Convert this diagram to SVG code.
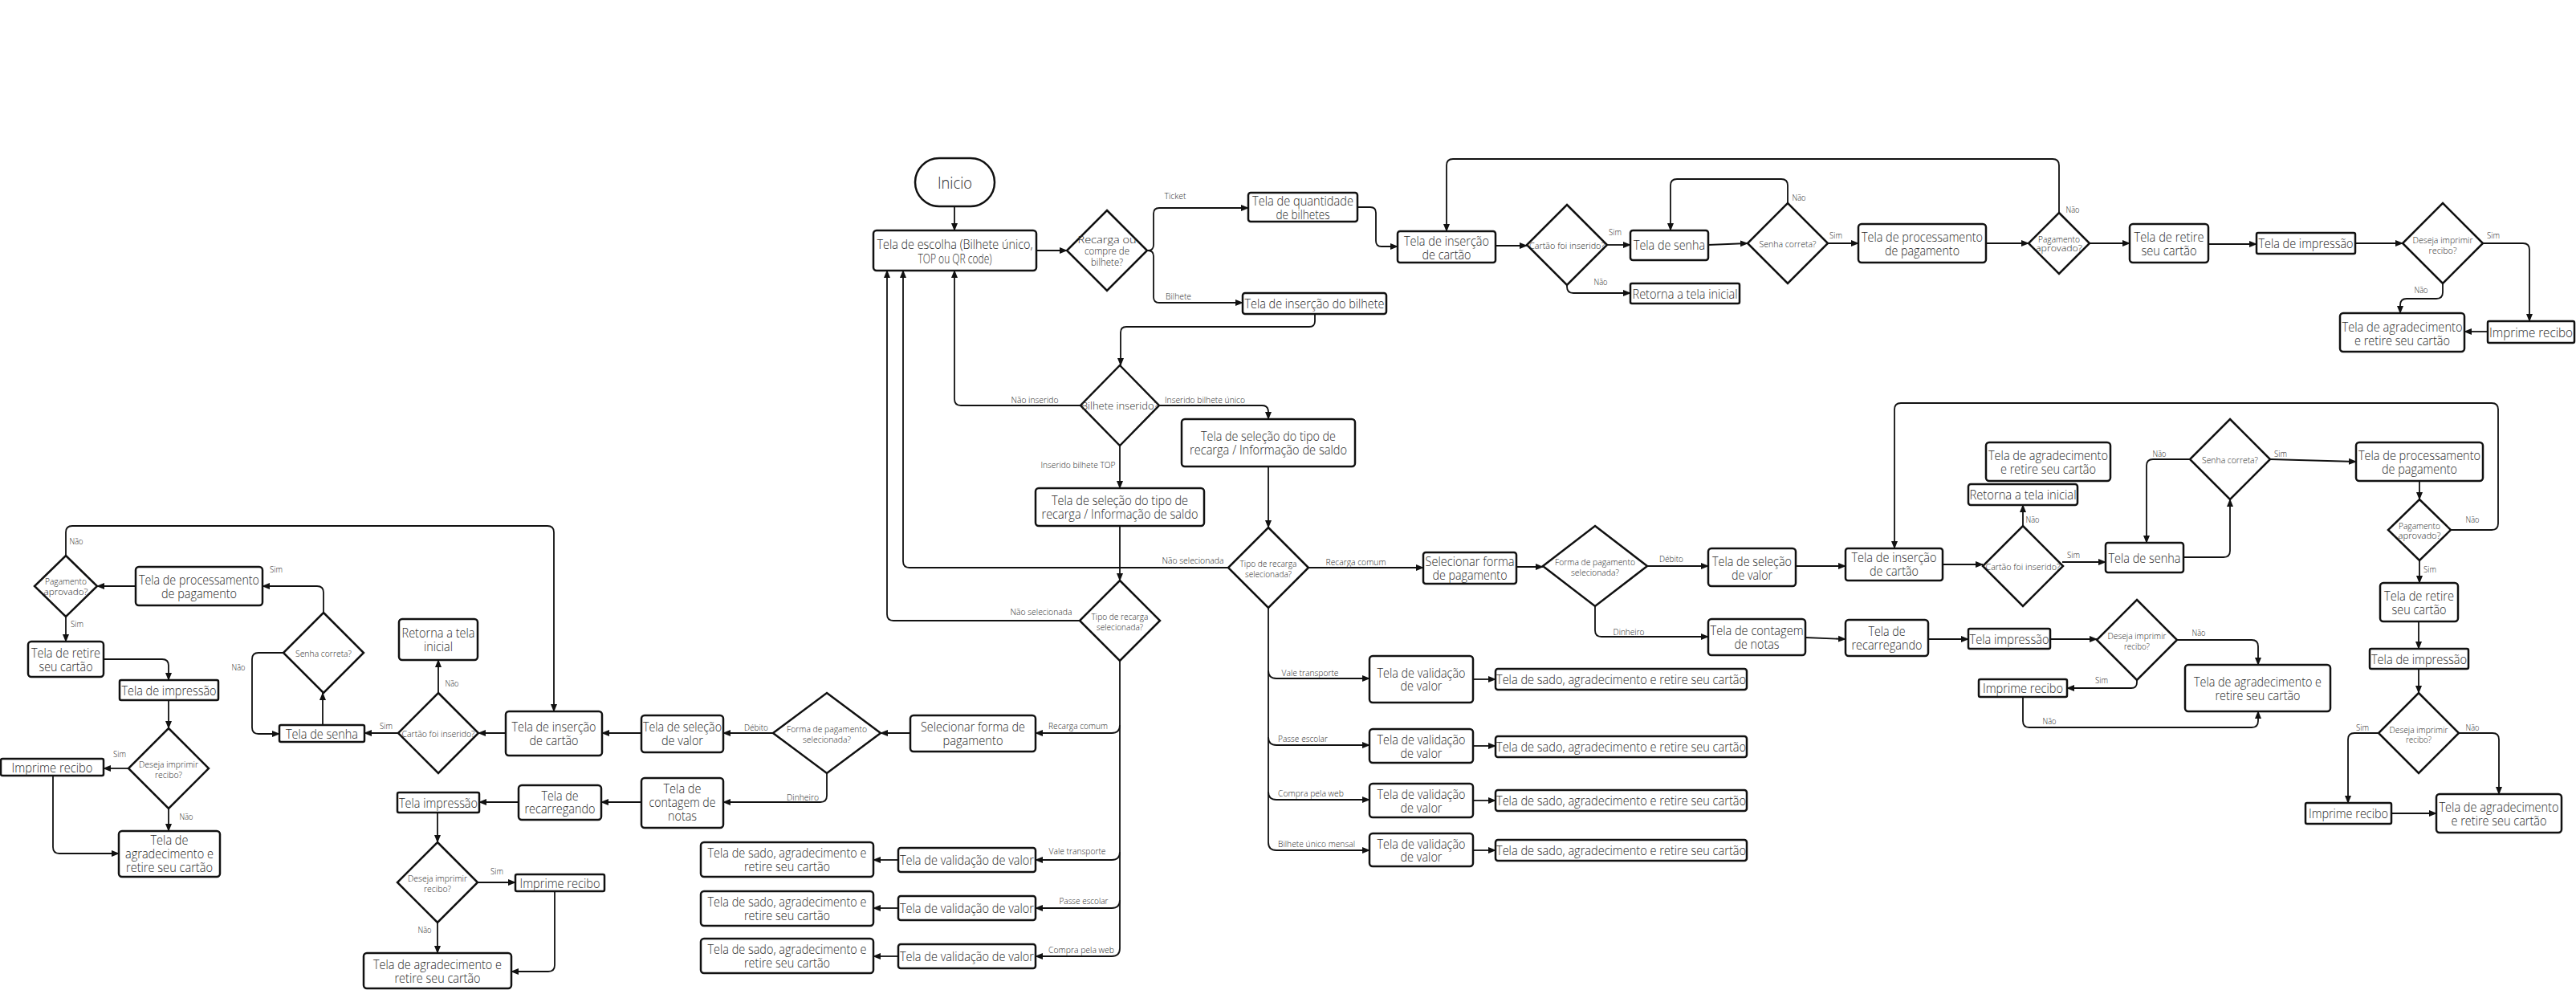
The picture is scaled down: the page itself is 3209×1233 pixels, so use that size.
<svg xmlns="http://www.w3.org/2000/svg" width="3209" height="1233" viewBox="0 0 3209 1233">
<style>
.n{fill:#fff;stroke:#111;stroke-width:2.5}
.c{fill:none;stroke:#111;stroke-width:1.8;marker-end:url(#a)}
text{font-family:"Open Sans","Liberation Sans",sans-serif;font-weight:300;fill:#2a2a2a;text-anchor:middle;dominant-baseline:central}
.bt{font-size:16px}
.dt{font-size:11px}
.lb{font-size:10px}
</style>
<defs>
<marker id="a" viewBox="0 0 10 10" refX="9" refY="5" markerWidth="10" markerHeight="10" markerUnits="userSpaceOnUse" orient="auto"><path d="M0,1 L10,5 L0,9 z" fill="#111"/></marker>
</defs>
<rect width="3209" height="1233" fill="#fff"/>

<g id="connectors">
<path class="c" d="M1189,257 V287"/>
<path class="c" d="M1291,312 H1329"/>
<path class="c" d="M1429,312 H1430 Q1437,312 1437,305 V266 Q1437,259 1444,259 H1555"/>
<path class="c" d="M1429,312 H1430 Q1437,312 1437,319 V370 Q1437,377 1444,377 H1548"/>
<path class="c" d="M1691,258 H1707 Q1714,258 1714,265 V300 Q1714,307 1721,307 H1741"/>
<path class="c" d="M1638,391 V400 Q1638,407 1631,407 H1403 Q1396,407 1396,414 V455"/>
<path class="c" d="M1346,505 H1197 Q1189,505 1189,497 V337"/>
<path class="c" d="M1444,505 H1572 Q1580,505 1580,513 V522"/>
<path class="c" d="M1395,555 V608"/>
<path class="c" d="M1395,655 V723"/>
<path class="c" d="M1580,581 V657"/>
<path class="c" d="M1530,707 H1133 Q1125,707 1125,699 V337"/>
<path class="c" d="M1345,773 H1113 Q1105,773 1105,765 V337"/>
<path class="c" d="M1630,707 H1773"/>
<path class="c" d="M1395,823 V1181 Q1395,1191 1385,1191 H1290"/>
<path class="c" d="M1395,903 Q1395,913 1385,913 H1290"/>
<path class="c" d="M1395,1061 Q1395,1071 1385,1071 H1290"/>
<path class="c" d="M1395,1121 Q1395,1131 1385,1131 H1290"/>
<path class="c" d="M1119,1071 H1088"/>
<path class="c" d="M1119,1131 H1088"/>
<path class="c" d="M1119,1191 H1088"/>
<path class="c" d="M1134,913 H1097"/>
<path class="c" d="M963,913 H901"/>
<path class="c" d="M799,913 H750"/>
<path class="c" d="M630,913 H596"/>
<path class="c" d="M546,863 V822"/>
<path class="c" d="M496,913 H454"/>
<path class="c" d="M402,903 V863"/>
<path class="c" d="M353,813 H322 Q314,813 314,821 V906 Q314,914 322,914 H348"/>
<path class="c" d="M403,763 V738 Q403,730 395,730 H327"/>
<path class="c" d="M169,730 H121"/>
<path class="c" d="M82,692 V663 Q82,655 90,655 H682 Q690,655 690,663 V886"/>
<path class="c" d="M82,768 V799"/>
<path class="c" d="M129,821 H202 Q210,821 210,829 V847"/>
<path class="c" d="M210,872 V907"/>
<path class="c" d="M160,957 H129"/>
<path class="c" d="M210,1007 V1035"/>
<path class="c" d="M66,966 V1055 Q66,1063 74,1063 H148"/>
<path class="c" d="M1030,963 V991 Q1030,999 1022,999 H901"/>
<path class="c" d="M799,999 H749"/>
<path class="c" d="M646,999 H597"/>
<path class="c" d="M545,1012 V1049"/>
<path class="c" d="M595,1099 H642"/>
<path class="c" d="M545,1149 V1187"/>
<path class="c" d="M691,1110 V1202 Q691,1210 683,1210 H637"/>
<path class="c" d="M1580,757 V1049 Q1580,1059 1590,1059 H1706"/>
<path class="c" d="M1580,835 Q1580,845 1590,845 H1706"/>
<path class="c" d="M1580,918 Q1580,928 1590,928 H1706"/>
<path class="c" d="M1580,986 Q1580,996 1590,996 H1706"/>
<path class="c" d="M1835,846 H1863"/>
<path class="c" d="M1835,929 H1863"/>
<path class="c" d="M1835,997 H1863"/>
<path class="c" d="M1835,1059 H1863"/>
<path class="c" d="M1889,706 H1922"/>
<path class="c" d="M2052,705 H2128"/>
<path class="c" d="M1987,755 V785 Q1987,793 1995,793 H2128"/>
<path class="c" d="M2237,705 H2299"/>
<path class="c" d="M2420,703 H2470"/>
<path class="c" d="M2520,655 V629"/>
<path class="c" d="M2569,700 H2623"/>
<path class="c" d="M2720,694 H2770 Q2778,694 2778,686 V622"/>
<path class="c" d="M2728,572 H2682 Q2674,572 2674,580 V676"/>
<path class="c" d="M2828,572 L2935,575"/>
<path class="c" d="M3014,599 V622"/>
<path class="c" d="M3053,660 H3104 Q3112,660 3112,652 V510 Q3112,502 3104,502 H2368 Q2360,502 2360,510 V683"/>
<path class="c" d="M3014,698 V726"/>
<path class="c" d="M3013,774 V808"/>
<path class="c" d="M3013,833 V863"/>
<path class="c" d="M2963,913 H2933 Q2925,913 2925,921 V1000"/>
<path class="c" d="M3063,913 H3105 Q3113,913 3113,921 V989"/>
<path class="c" d="M2979,1013 H3035"/>
<path class="c" d="M2249,794 L2299,796"/>
<path class="c" d="M2402,796 H2452"/>
<path class="c" d="M2554,796 H2612"/>
<path class="c" d="M2712,797 H2805 Q2813,797 2813,805 V828"/>
<path class="c" d="M2662,847 V850 Q2662,857 2655,857 H2575"/>
<path class="c" d="M2520,868 V898 Q2520,906 2528,906 H2805 Q2813,906 2813,898 V886"/>
<path class="c" d="M1863,306 H1902"/>
<path class="c" d="M2002,305 H2031"/>
<path class="c" d="M1952,355 V357 Q1952,365 1960,365 H2031"/>
<path class="c" d="M2128,305 L2177,303"/>
<path class="c" d="M2227,253 V231 Q2227,223 2219,223 H2089 Q2081,223 2081,231 V287"/>
<path class="c" d="M2277,303 H2315"/>
<path class="c" d="M2474,303 H2527"/>
<path class="c" d="M2565,265 V206 Q2565,198 2557,198 H1810 Q1802,198 1802,206 V288"/>
<path class="c" d="M2603,303 H2653"/>
<path class="c" d="M2751,304 H2811"/>
<path class="c" d="M2934,303 H2993"/>
<path class="c" d="M3093,303 H3143 Q3151,303 3151,311 V400"/>
<path class="c" d="M3043,353 V364 Q3043,372 3035,372 H2998 Q2990,372 2990,380 V390"/>
<path class="c" d="M3099,413 H3070"/>
<g class="lb">
<text x="1464" y="244" textLength="27" lengthAdjust="spacingAndGlyphs">Ticket</text>
<text x="1468" y="369" textLength="32" lengthAdjust="spacingAndGlyphs">Bilhete</text>
<text x="1289" y="498" textLength="59" lengthAdjust="spacingAndGlyphs">Não inserido</text>
<text x="1501" y="498" textLength="100" lengthAdjust="spacingAndGlyphs">Inserido bilhete único</text>
<text x="1343" y="579" textLength="93" lengthAdjust="spacingAndGlyphs">Inserido bilhete TOP</text>
<text x="1486" y="698" textLength="77" lengthAdjust="spacingAndGlyphs">Não selecionada</text>
<text x="1689" y="700" textLength="75" lengthAdjust="spacingAndGlyphs">Recarga comum</text>
<text x="1297" y="762" textLength="77" lengthAdjust="spacingAndGlyphs">Não selecionada</text>
<text x="1343" y="904" textLength="74" lengthAdjust="spacingAndGlyphs">Recarga comum</text>
<text x="1342" y="1060" textLength="71" lengthAdjust="spacingAndGlyphs">Vale transporte</text>
<text x="1350" y="1122" textLength="61" lengthAdjust="spacingAndGlyphs">Passe escolar</text>
<text x="1347" y="1183" textLength="82" lengthAdjust="spacingAndGlyphs">Compra pela web</text>
<text x="1632" y="838" textLength="71" lengthAdjust="spacingAndGlyphs">Vale transporte</text>
<text x="1623" y="920" textLength="62" lengthAdjust="spacingAndGlyphs">Passe escolar</text>
<text x="1633" y="988" textLength="82" lengthAdjust="spacingAndGlyphs">Compra pela web</text>
<text x="1640" y="1051" textLength="96" lengthAdjust="spacingAndGlyphs">Bilhete único mensal</text>
<text x="2082" y="696" textLength="30" lengthAdjust="spacingAndGlyphs">Débito</text>
<text x="2029" y="787" textLength="39" lengthAdjust="spacingAndGlyphs">Dinheiro</text>
<text x="942" y="906" textLength="30" lengthAdjust="spacingAndGlyphs">Débito</text>
<text x="1000" y="993" textLength="40" lengthAdjust="spacingAndGlyphs">Dinheiro</text>
<text x="2012" y="289" textLength="16" lengthAdjust="spacingAndGlyphs">Sim</text>
<text x="1994" y="351" textLength="17" lengthAdjust="spacingAndGlyphs">Não</text>
<text x="2241" y="246" textLength="17" lengthAdjust="spacingAndGlyphs">Não</text>
<text x="2287" y="293" textLength="16" lengthAdjust="spacingAndGlyphs">Sim</text>
<text x="2582" y="261" textLength="17" lengthAdjust="spacingAndGlyphs">Não</text>
<text x="3106" y="293" textLength="16" lengthAdjust="spacingAndGlyphs">Sim</text>
<text x="3016" y="361" textLength="17" lengthAdjust="spacingAndGlyphs">Não</text>
<text x="2532" y="647" textLength="17" lengthAdjust="spacingAndGlyphs">Não</text>
<text x="2583" y="691" textLength="16" lengthAdjust="spacingAndGlyphs">Sim</text>
<text x="2690" y="565" textLength="17" lengthAdjust="spacingAndGlyphs">Não</text>
<text x="2841" y="565" textLength="16" lengthAdjust="spacingAndGlyphs">Sim</text>
<text x="3080" y="647" textLength="17" lengthAdjust="spacingAndGlyphs">Não</text>
<text x="3027" y="709" textLength="16" lengthAdjust="spacingAndGlyphs">Sim</text>
<text x="2943" y="906" textLength="16" lengthAdjust="spacingAndGlyphs">Sim</text>
<text x="3080" y="906" textLength="17" lengthAdjust="spacingAndGlyphs">Não</text>
<text x="2739" y="788" textLength="17" lengthAdjust="spacingAndGlyphs">Não</text>
<text x="2618" y="847" textLength="16" lengthAdjust="spacingAndGlyphs">Sim</text>
<text x="2553" y="898" textLength="17" lengthAdjust="spacingAndGlyphs">Não</text>
<text x="95" y="674" textLength="17" lengthAdjust="spacingAndGlyphs">Não</text>
<text x="96" y="777" textLength="16" lengthAdjust="spacingAndGlyphs">Sim</text>
<text x="344" y="709" textLength="16" lengthAdjust="spacingAndGlyphs">Sim</text>
<text x="297" y="831" textLength="17" lengthAdjust="spacingAndGlyphs">Não</text>
<text x="481" y="904" textLength="16" lengthAdjust="spacingAndGlyphs">Sim</text>
<text x="563" y="851" textLength="17" lengthAdjust="spacingAndGlyphs">Não</text>
<text x="149" y="939" textLength="16" lengthAdjust="spacingAndGlyphs">Sim</text>
<text x="232" y="1017" textLength="17" lengthAdjust="spacingAndGlyphs">Não</text>
<text x="619" y="1085" textLength="16" lengthAdjust="spacingAndGlyphs">Sim</text>
<text x="529" y="1158" textLength="17" lengthAdjust="spacingAndGlyphs">Não</text>
</g>
</g>

<g id="inicio"><rect class="n" x="1140" y="197" width="99" height="60" rx="30"/><text x="1189.5" y="227" style="font-size:21px" textLength="43" lengthAdjust="spacingAndGlyphs">Inicio</text></g>
<g id="escolha"><rect class="n" x="1088" y="287" width="203" height="50" rx="4"/><text class="bt" x="1189.5" y="304" textLength="194" lengthAdjust="spacingAndGlyphs">Tela de escolha (Bilhete único,</text><text class="bt" x="1189.5" y="322" textLength="92" lengthAdjust="spacingAndGlyphs">TOP ou QR code)</text></g>
<g id="d-recarga"><polygon class="n" points="1379,262 1429,312 1379,362 1329,312"/><text class="dt" style="font-size:12px" x="1379" y="298" textLength="73" lengthAdjust="spacingAndGlyphs">Recarga ou</text><text class="dt" style="font-size:12px" x="1379" y="312" textLength="56" lengthAdjust="spacingAndGlyphs">compre de</text><text class="dt" style="font-size:12px" x="1379" y="326" textLength="40" lengthAdjust="spacingAndGlyphs">bilhete?</text></g>
<g id="quantidade"><rect class="n" x="1555" y="240" width="136" height="36" rx="3"/><text class="bt" x="1623" y="250" textLength="126" lengthAdjust="spacingAndGlyphs">Tela de quantidade</text><text class="bt" x="1623" y="267" textLength="67" lengthAdjust="spacingAndGlyphs">de bilhetes</text></g>
<g id="ins-bilhete"><rect class="n" x="1548" y="365" width="179" height="26" rx="3"/><text class="bt" x="1637.5" y="378" textLength="174" lengthAdjust="spacingAndGlyphs">Tela de inserção do bilhete</text></g>
<g id="d-bilhete"><polygon class="n" points="1395,455 1444,505 1395,555 1346,505"/><text class="dt" style="font-size:13px" x="1395" y="505" textLength="96" lengthAdjust="spacingAndGlyphs">Bilhete inserido?</text></g>
<g id="sel-tipo-unico"><rect class="n" x="1472" y="522" width="216" height="59" rx="4"/><text class="bt" x="1580" y="543" textLength="168" lengthAdjust="spacingAndGlyphs">Tela de seleção do tipo de</text><text class="bt" x="1580" y="560" textLength="196" lengthAdjust="spacingAndGlyphs">recarga / Informação de saldo</text></g>
<g id="sel-tipo-top"><rect class="n" x="1290" y="608" width="210" height="47" rx="4"/><text class="bt" x="1395" y="623" textLength="170" lengthAdjust="spacingAndGlyphs">Tela de seleção do tipo de</text><text class="bt" x="1395" y="640" textLength="195" lengthAdjust="spacingAndGlyphs">recarga / Informação de saldo</text></g>
<g id="d-tipo-unico"><polygon class="n" points="1580,657 1630,707 1580,757 1530,707"/><text class="dt" x="1580" y="701" textLength="71" lengthAdjust="spacingAndGlyphs">Tipo de recarga</text><text class="dt" x="1580" y="714" textLength="58" lengthAdjust="spacingAndGlyphs">selecionada?</text></g>
<g id="d-tipo-top"><polygon class="n" points="1395,723 1445,773 1395,823 1345,773"/><text class="dt" x="1395" y="767" textLength="71" lengthAdjust="spacingAndGlyphs">Tipo de recarga</text><text class="dt" x="1395" y="780" textLength="58" lengthAdjust="spacingAndGlyphs">selecionada?</text></g>

<g id="sel-forma-l"><rect class="n" x="1134" y="891" width="156" height="45" rx="4"/><text class="bt" x="1212" y="905" textLength="130" lengthAdjust="spacingAndGlyphs">Selecionar forma de</text><text class="bt" x="1212" y="922" textLength="75" lengthAdjust="spacingAndGlyphs">pagamento</text></g>
<g id="d-forma-l"><polygon class="n" points="1030,863 1097,913 1030,963 963,913"/><text class="dt" x="1030" y="907" textLength="100" lengthAdjust="spacingAndGlyphs">Forma de pagamento</text><text class="dt" x="1030" y="920" textLength="60" lengthAdjust="spacingAndGlyphs">selecionada?</text></g>
<g id="sel-valor-l"><rect class="n" x="799" y="891" width="102" height="46" rx="4"/><text class="bt" x="850" y="905" textLength="98" lengthAdjust="spacingAndGlyphs">Tela de seleção</text><text class="bt" x="850" y="922" textLength="52" lengthAdjust="spacingAndGlyphs">de valor</text></g>
<g id="ins-cartao-l"><rect class="n" x="630" y="886" width="120" height="55" rx="4"/><text class="bt" x="690" y="905" textLength="105" lengthAdjust="spacingAndGlyphs">Tela de inserção</text><text class="bt" x="690" y="922" textLength="61" lengthAdjust="spacingAndGlyphs">de cartão</text></g>
<g id="d-cartao-l"><polygon class="n" points="546,863 596,913 546,963 496,913"/><text class="dt" x="546" y="913" textLength="91" lengthAdjust="spacingAndGlyphs">Cartão foi inserido?</text></g>
<g id="retorna-l"><rect class="n" x="497" y="771" width="98" height="51" rx="4"/><text class="bt" x="546" y="788" textLength="91" lengthAdjust="spacingAndGlyphs">Retorna a tela</text><text class="bt" x="546" y="805" textLength="36" lengthAdjust="spacingAndGlyphs">inicial</text></g>
<g id="senha-l"><rect class="n" x="348" y="903" width="106" height="21" rx="2"/><text class="bt" x="401" y="913.5" textLength="90" lengthAdjust="spacingAndGlyphs">Tela de senha</text></g>
<g id="d-senha-l"><polygon class="n" points="403,763 453,813 403,863 353,813"/><text class="dt" x="403" y="813" textLength="70" lengthAdjust="spacingAndGlyphs">Senha correta?</text></g>
<g id="proc-l"><rect class="n" x="169" y="706" width="158" height="48" rx="4"/><text class="bt" x="248" y="722" textLength="150" lengthAdjust="spacingAndGlyphs">Tela de processamento</text><text class="bt" x="248" y="739" textLength="94" lengthAdjust="spacingAndGlyphs">de pagamento</text></g>
<g id="d-pag-l"><polygon class="n" points="82,692 121,730 82,768 43,730"/><text class="dt" style="font-size:10px" x="82" y="724" textLength="52" lengthAdjust="spacingAndGlyphs">Pagamento</text><text class="dt" style="font-size:10px" x="82" y="737" textLength="55" lengthAdjust="spacingAndGlyphs">aprovado?</text></g>
<g id="retire-l"><rect class="n" x="35" y="799" width="94" height="44" rx="4"/><text class="bt" x="82" y="813" textLength="86" lengthAdjust="spacingAndGlyphs">Tela de retire</text><text class="bt" x="82" y="830" textLength="67" lengthAdjust="spacingAndGlyphs">seu cartão</text></g>
<g id="impressao-l"><rect class="n" x="149" y="847" width="123" height="25" rx="2"/><text class="bt" x="210.5" y="859.5" textLength="118" lengthAdjust="spacingAndGlyphs">Tela de impressão</text></g>
<g id="d-imprimir-l"><polygon class="n" points="210,907 260,957 210,1007 160,957"/><text class="dt" x="210" y="951" textLength="74" lengthAdjust="spacingAndGlyphs">Deseja imprimir</text><text class="dt" x="210" y="964" textLength="34" lengthAdjust="spacingAndGlyphs">recibo?</text></g>
<g id="recibo-l"><rect class="n" x="1" y="945" width="128" height="21" rx="2"/><text class="bt" x="65" y="955.5" textLength="101" lengthAdjust="spacingAndGlyphs">Imprime recibo</text></g>
<g id="agrad-l"><rect class="n" x="148" y="1035" width="126" height="57" rx="4"/><text class="bt" x="211" y="1046" textLength="47" lengthAdjust="spacingAndGlyphs">Tela de</text><text class="bt" x="211" y="1063" textLength="110" lengthAdjust="spacingAndGlyphs">agradecimento e</text><text class="bt" x="211" y="1080" textLength="108" lengthAdjust="spacingAndGlyphs">retire seu cartão</text></g>
<g id="contagem-l"><rect class="n" x="799" y="969" width="102" height="62" rx="4"/><text class="bt" x="850" y="982" textLength="47" lengthAdjust="spacingAndGlyphs">Tela de</text><text class="bt" x="850" y="999" textLength="83" lengthAdjust="spacingAndGlyphs">contagem de</text><text class="bt" x="850" y="1016" textLength="36" lengthAdjust="spacingAndGlyphs">notas</text></g>
<g id="recarregando-l"><rect class="n" x="646" y="978" width="103" height="43" rx="4"/><text class="bt" x="697.5" y="991" textLength="46" lengthAdjust="spacingAndGlyphs">Tela de</text><text class="bt" x="697.5" y="1007" textLength="88" lengthAdjust="spacingAndGlyphs">recarregando</text></g>
<g id="impressao2-l"><rect class="n" x="495" y="987" width="102" height="25" rx="2"/><text class="bt" x="546" y="999.5" textLength="98" lengthAdjust="spacingAndGlyphs">Tela impressão</text></g>
<g id="d-imprimir2-l"><polygon class="n" points="545,1049 595,1099 545,1149 495,1099"/><text class="dt" x="545" y="1093" textLength="74" lengthAdjust="spacingAndGlyphs">Deseja imprimir</text><text class="dt" x="545" y="1106" textLength="34" lengthAdjust="spacingAndGlyphs">recibo?</text></g>
<g id="recibo2-l"><rect class="n" x="642" y="1089" width="111" height="21" rx="2"/><text class="bt" x="697.5" y="1099.5" textLength="100" lengthAdjust="spacingAndGlyphs">Imprime recibo</text></g>
<g id="agrad2-l"><rect class="n" x="453" y="1187" width="184" height="44" rx="4"/><text class="bt" x="545" y="1201" textLength="160" lengthAdjust="spacingAndGlyphs">Tela de agradecimento e</text><text class="bt" x="545" y="1218" textLength="107" lengthAdjust="spacingAndGlyphs">retire seu cartão</text></g>
<g id="validacao-l1"><rect class="n" x="1119" y="1056" width="171" height="30" rx="3"/><text class="bt" x="1204.5" y="1071" textLength="167" lengthAdjust="spacingAndGlyphs">Tela de validação de valor</text></g>
<g id="validacao-l2"><rect class="n" x="1119" y="1116" width="171" height="30" rx="3"/><text class="bt" x="1204.5" y="1131" textLength="167" lengthAdjust="spacingAndGlyphs">Tela de validação de valor</text></g>
<g id="validacao-l3"><rect class="n" x="1119" y="1176" width="171" height="30" rx="3"/><text class="bt" x="1204.5" y="1191" textLength="167" lengthAdjust="spacingAndGlyphs">Tela de validação de valor</text></g>
<g id="saldo-l1"><rect class="n" x="873" y="1049" width="215" height="43" rx="4"/><text class="bt" x="980.5" y="1062" textLength="198" lengthAdjust="spacingAndGlyphs">Tela de sado, agradecimento e</text><text class="bt" x="980.5" y="1079" textLength="107" lengthAdjust="spacingAndGlyphs">retire seu cartão</text></g>
<g id="saldo-l2"><rect class="n" x="873" y="1110" width="215" height="43" rx="4"/><text class="bt" x="980.5" y="1123" textLength="198" lengthAdjust="spacingAndGlyphs">Tela de sado, agradecimento e</text><text class="bt" x="980.5" y="1140" textLength="107" lengthAdjust="spacingAndGlyphs">retire seu cartão</text></g>
<g id="saldo-l3"><rect class="n" x="873" y="1169" width="215" height="43" rx="4"/><text class="bt" x="980.5" y="1182" textLength="198" lengthAdjust="spacingAndGlyphs">Tela de sado, agradecimento e</text><text class="bt" x="980.5" y="1199" textLength="107" lengthAdjust="spacingAndGlyphs">retire seu cartão</text></g>

<g id="validacao-r1"><rect class="n" x="1706" y="817" width="129" height="58" rx="4"/><text class="bt" x="1770.5" y="838" textLength="110" lengthAdjust="spacingAndGlyphs">Tela de validação</text><text class="bt" x="1770.5" y="854" textLength="52" lengthAdjust="spacingAndGlyphs">de valor</text></g>
<g id="validacao-r2"><rect class="n" x="1706" y="908" width="129" height="42" rx="4"/><text class="bt" x="1770.5" y="921" textLength="110" lengthAdjust="spacingAndGlyphs">Tela de validação</text><text class="bt" x="1770.5" y="938" textLength="52" lengthAdjust="spacingAndGlyphs">de valor</text></g>
<g id="validacao-r3"><rect class="n" x="1706" y="976" width="129" height="42" rx="4"/><text class="bt" x="1770.5" y="989" textLength="110" lengthAdjust="spacingAndGlyphs">Tela de validação</text><text class="bt" x="1770.5" y="1006" textLength="52" lengthAdjust="spacingAndGlyphs">de valor</text></g>
<g id="validacao-r4"><rect class="n" x="1706" y="1038" width="129" height="41" rx="4"/><text class="bt" x="1770.5" y="1051" textLength="110" lengthAdjust="spacingAndGlyphs">Tela de validação</text><text class="bt" x="1770.5" y="1067" textLength="52" lengthAdjust="spacingAndGlyphs">de valor</text></g>
<g id="saldo-r1"><rect class="n" x="1863" y="833" width="313" height="26" rx="3"/><text class="bt" x="2019.5" y="846" textLength="311" lengthAdjust="spacingAndGlyphs">Tela de sado, agradecimento e retire seu cartão</text></g>
<g id="saldo-r2"><rect class="n" x="1863" y="917" width="313" height="26" rx="3"/><text class="bt" x="2019.5" y="930" textLength="311" lengthAdjust="spacingAndGlyphs">Tela de sado, agradecimento e retire seu cartão</text></g>
<g id="saldo-r3"><rect class="n" x="1863" y="984" width="313" height="26" rx="3"/><text class="bt" x="2019.5" y="997" textLength="311" lengthAdjust="spacingAndGlyphs">Tela de sado, agradecimento e retire seu cartão</text></g>
<g id="saldo-r4"><rect class="n" x="1863" y="1046" width="313" height="26" rx="3"/><text class="bt" x="2019.5" y="1059" textLength="311" lengthAdjust="spacingAndGlyphs">Tela de sado, agradecimento e retire seu cartão</text></g>
<g id="sel-forma-r"><rect class="n" x="1773" y="688" width="116" height="39" rx="3"/><text class="bt" x="1831" y="699" textLength="111" lengthAdjust="spacingAndGlyphs">Selecionar forma</text><text class="bt" x="1831" y="716" textLength="93" lengthAdjust="spacingAndGlyphs">de pagamento</text></g>
<g id="d-forma-r"><polygon class="n" points="1987,655 2052,705 1987,755 1922,705"/><text class="dt" x="1987" y="699" textLength="100" lengthAdjust="spacingAndGlyphs">Forma de pagamento</text><text class="dt" x="1987" y="712" textLength="60" lengthAdjust="spacingAndGlyphs">selecionada?</text></g>
<g id="sel-valor-r"><rect class="n" x="2128" y="683" width="109" height="47" rx="4"/><text class="bt" x="2182.5" y="699" textLength="99" lengthAdjust="spacingAndGlyphs">Tela de seleção</text><text class="bt" x="2182.5" y="716" textLength="51" lengthAdjust="spacingAndGlyphs">de valor</text></g>
<g id="ins-cartao-r"><rect class="n" x="2299" y="683" width="121" height="40" rx="3"/><text class="bt" x="2359.5" y="694" textLength="106" lengthAdjust="spacingAndGlyphs">Tela de inserção</text><text class="bt" x="2359.5" y="711" textLength="61" lengthAdjust="spacingAndGlyphs">de cartão</text></g>
<g id="d-cartao-r"><polygon class="n" points="2520,655 2570,705 2520,755 2470,705"/><text class="dt" x="2520" y="705" textLength="93" lengthAdjust="spacingAndGlyphs">Cartão foi inserido?</text></g>
<g id="retorna-r"><rect class="n" x="2452" y="603" width="136" height="26" rx="3"/><text class="bt" x="2520" y="616" textLength="133" lengthAdjust="spacingAndGlyphs">Retorna a tela inicial</text></g>
<g id="agrad-sobre-retorna"><rect class="n" x="2474" y="551" width="155" height="48" rx="4"/><text class="bt" x="2551.5" y="567" textLength="149" lengthAdjust="spacingAndGlyphs">Tela de agradecimento</text><text class="bt" x="2551.5" y="584" textLength="119" lengthAdjust="spacingAndGlyphs">e retire seu cartão</text></g>
<g id="senha-r"><rect class="n" x="2623" y="676" width="97" height="37" rx="3"/><text class="bt" x="2671.5" y="694.5" textLength="90" lengthAdjust="spacingAndGlyphs">Tela de senha</text></g>
<g id="d-senha-r"><polygon class="n" points="2778,522 2828,572 2778,622 2728,572"/><text class="dt" x="2778" y="572" textLength="70" lengthAdjust="spacingAndGlyphs">Senha correta?</text></g>
<g id="proc-r"><rect class="n" x="2935" y="551" width="158" height="48" rx="4"/><text class="bt" x="3014" y="567" textLength="152" lengthAdjust="spacingAndGlyphs">Tela de processamento</text><text class="bt" x="3014" y="584" textLength="94" lengthAdjust="spacingAndGlyphs">de pagamento</text></g>
<g id="d-pag-r"><polygon class="n" points="3014,622 3053,660 3014,698 2975,660"/><text class="dt" style="font-size:10px" x="3014" y="655" textLength="52" lengthAdjust="spacingAndGlyphs">Pagamento</text><text class="dt" style="font-size:10px" x="3014" y="667" textLength="53" lengthAdjust="spacingAndGlyphs">aprovado?</text></g>
<g id="retire-r"><rect class="n" x="2965" y="726" width="97" height="48" rx="4"/><text class="bt" x="3013.5" y="742" textLength="87" lengthAdjust="spacingAndGlyphs">Tela de retire</text><text class="bt" x="3013.5" y="759" textLength="68" lengthAdjust="spacingAndGlyphs">seu cartão</text></g>
<g id="impressao-r"><rect class="n" x="2952" y="808" width="123" height="25" rx="2"/><text class="bt" x="3013.5" y="820.5" textLength="119" lengthAdjust="spacingAndGlyphs">Tela de impressão</text></g>
<g id="d-imprimir-r"><polygon class="n" points="3013,863 3063,913 3013,963 2963,913"/><text class="dt" x="3013" y="908" textLength="73" lengthAdjust="spacingAndGlyphs">Deseja imprimir</text><text class="dt" x="3013" y="920" textLength="32" lengthAdjust="spacingAndGlyphs">recibo?</text></g>
<g id="recibo-r"><rect class="n" x="2872" y="1000" width="107" height="26" rx="2"/><text class="bt" x="2925.5" y="1013" textLength="99" lengthAdjust="spacingAndGlyphs">Imprime recibo</text></g>
<g id="agrad-r"><rect class="n" x="3035" y="989" width="156" height="48" rx="4"/><text class="bt" x="3113" y="1005" textLength="149" lengthAdjust="spacingAndGlyphs">Tela de agradecimento</text><text class="bt" x="3113" y="1022" textLength="119" lengthAdjust="spacingAndGlyphs">e retire seu cartão</text></g>
<g id="contagem-r"><rect class="n" x="2128" y="771" width="121" height="45" rx="4"/><text class="bt" x="2188.5" y="785" textLength="116" lengthAdjust="spacingAndGlyphs">Tela de contagem</text><text class="bt" x="2188.5" y="802" textLength="56" lengthAdjust="spacingAndGlyphs">de notas</text></g>
<g id="recarregando-r"><rect class="n" x="2299" y="772" width="103" height="45" rx="4"/><text class="bt" x="2350.5" y="786" textLength="46" lengthAdjust="spacingAndGlyphs">Tela de</text><text class="bt" x="2350.5" y="803" textLength="88" lengthAdjust="spacingAndGlyphs">recarregando</text></g>
<g id="impressao2-r"><rect class="n" x="2452" y="783" width="102" height="25" rx="2"/><text class="bt" x="2503" y="795.5" textLength="99" lengthAdjust="spacingAndGlyphs">Tela impressão</text></g>
<g id="d-imprimir2-r"><polygon class="n" points="2662,747 2712,797 2662,847 2612,797"/><text class="dt" x="2662" y="791" textLength="73" lengthAdjust="spacingAndGlyphs">Deseja imprimir</text><text class="dt" x="2662" y="804" textLength="32" lengthAdjust="spacingAndGlyphs">recibo?</text></g>
<g id="recibo2-r"><rect class="n" x="2465" y="846" width="110" height="22" rx="2"/><text class="bt" x="2520" y="857" textLength="100" lengthAdjust="spacingAndGlyphs">Imprime recibo</text></g>
<g id="agrad2-r"><rect class="n" x="2722" y="828" width="181" height="58" rx="4"/><text class="bt" x="2812.5" y="849" textLength="159" lengthAdjust="spacingAndGlyphs">Tela de agradecimento e</text><text class="bt" x="2812.5" y="866" textLength="106" lengthAdjust="spacingAndGlyphs">retire seu cartão</text></g>

<g id="ins-cartao-t"><rect class="n" x="1741" y="288" width="122" height="39" rx="3"/><text class="bt" x="1802" y="300" textLength="106" lengthAdjust="spacingAndGlyphs">Tela de inserção</text><text class="bt" x="1802" y="317" textLength="61" lengthAdjust="spacingAndGlyphs">de cartão</text></g>
<g id="d-cartao-t"><polygon class="n" points="1952,255 2002,305 1952,355 1902,305"/><text class="dt" x="1952" y="305" textLength="94" lengthAdjust="spacingAndGlyphs">Cartão foi inserido?</text></g>
<g id="retorna-t"><rect class="n" x="2031" y="353" width="136" height="25" rx="2"/><text class="bt" x="2099" y="365.5" textLength="131" lengthAdjust="spacingAndGlyphs">Retorna a tela inicial</text></g>
<g id="senha-t"><rect class="n" x="2031" y="287" width="97" height="37" rx="3"/><text class="bt" x="2079.5" y="305" textLength="89" lengthAdjust="spacingAndGlyphs">Tela de senha</text></g>
<g id="d-senha-t"><polygon class="n" points="2227,253 2277,303 2227,353 2177,303"/><text class="dt" x="2227" y="303" textLength="71" lengthAdjust="spacingAndGlyphs">Senha correta?</text></g>
<g id="proc-t"><rect class="n" x="2315" y="279" width="159" height="48" rx="4"/><text class="bt" x="2394.5" y="295" textLength="151" lengthAdjust="spacingAndGlyphs">Tela de processamento</text><text class="bt" x="2394.5" y="312" textLength="93" lengthAdjust="spacingAndGlyphs">de pagamento</text></g>
<g id="d-pag-t"><polygon class="n" points="2565,265 2603,303 2565,341 2527,303"/><text class="dt" style="font-size:10px" x="2565" y="298" textLength="52" lengthAdjust="spacingAndGlyphs">Pagamento</text><text class="dt" style="font-size:10px" x="2565" y="309" textLength="58" lengthAdjust="spacingAndGlyphs">aprovado?</text></g>
<g id="retire-t"><rect class="n" x="2653" y="279" width="98" height="48" rx="4"/><text class="bt" x="2702" y="295" textLength="87" lengthAdjust="spacingAndGlyphs">Tela de retire</text><text class="bt" x="2702" y="312" textLength="69" lengthAdjust="spacingAndGlyphs">seu cartão</text></g>
<g id="impressao-t"><rect class="n" x="2811" y="290" width="123" height="26" rx="2"/><text class="bt" x="2872.5" y="303" textLength="118" lengthAdjust="spacingAndGlyphs">Tela de impressão</text></g>
<g id="d-imprimir-t"><polygon class="n" points="3043,253 3093,303 3043,353 2993,303"/><text class="dt" x="3043" y="298" textLength="75" lengthAdjust="spacingAndGlyphs">Deseja imprimir</text><text class="dt" x="3043" y="311" textLength="35" lengthAdjust="spacingAndGlyphs">recibo?</text></g>
<g id="agrad-t"><rect class="n" x="2915" y="390" width="155" height="48" rx="4"/><text class="bt" x="2992.5" y="407" textLength="150" lengthAdjust="spacingAndGlyphs">Tela de agradecimento</text><text class="bt" x="2992.5" y="424" textLength="119" lengthAdjust="spacingAndGlyphs">e retire seu cartão</text></g>
<g id="recibo-t"><rect class="n" x="3099" y="400" width="108" height="27" rx="2"/><text class="bt" x="3153" y="413.5" textLength="104" lengthAdjust="spacingAndGlyphs">Imprime recibo</text></g>
</svg>
